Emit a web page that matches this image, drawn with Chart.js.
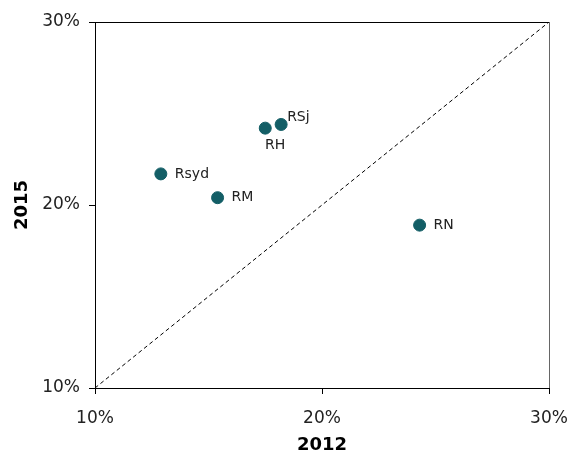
<!DOCTYPE html>
<html>
<head>
<meta charset="utf-8">
<script src="https://cdn.jsdelivr.net/npm/chart.js@4"></script>
<style>
  html, body { margin: 0; padding: 0; background: #fff; }
  #wrap { width: 571px; height: 453px; }
</style>
</head>
<body>
<div id="wrap"><canvas id="c" width="571" height="453"></canvas></div>
<script>
// ======================
// DATA
// ======================
const regions = ["Rsyd", "RM", "RH", "RSj", "RN"];
const share2012 = [12.9, 15.4, 17.5, 18.2, 24.3];
const share2015 = [21.7, 20.4, 24.2, 24.4, 18.9];
const diagonal = [10, 30];
const tickValues = [10, 20, 30];

// label placement per region (dx, dy, align)
const labelPos = [
  [14, 0, "left"],
  [14, 0, "left"],
  [10, 17, "center"],
  [6, -7, "left"],
  [14, 0, "left"]
];

const dotColor = "#135e66";
const font = "'DejaVu Sans', Verdana, sans-serif";

// point labels + top/right frame
const extras = {
  id: "extras",
  afterDatasetsDraw(chart) {
    const ctx = chart.ctx;
    const a = chart.chartArea;
    ctx.save();
    ctx.lineWidth = 1;
    ctx.strokeStyle = "#000";
    ctx.beginPath();
    ctx.moveTo(a.left, a.top + 0.5);
    ctx.lineTo(a.right, a.top + 0.5);
    ctx.stroke();
    ctx.strokeStyle = "#666";
    ctx.beginPath();
    ctx.moveTo(a.right + 0.5, a.top);
    ctx.lineTo(a.right + 0.5, a.bottom);
    ctx.stroke();

    const meta = chart.getDatasetMeta(1);
    ctx.fillStyle = "#222";
    ctx.font = "14px " + font;
    ctx.textBaseline = "middle";
    meta.data.forEach((p, i) => {
      const lp = labelPos[i];
      ctx.textAlign = lp[2];
      ctx.fillText(regions[i], p.x + lp[0], p.y + lp[1]);
    });
    ctx.restore();
  }
};

new Chart(document.getElementById("c"), {
  type: "scatter",
  data: {
    datasets: [
      {
        type: "line",
        data: diagonal.map(v => ({ x: v, y: v })),
        borderColor: "#000",
        borderWidth: 1,
        borderDash: [4, 3],
        pointRadius: 0,
        fill: false
      },
      {
        data: regions.map((r, i) => ({ x: share2012[i], y: share2015[i] })),
        backgroundColor: dotColor,
        borderColor: dotColor,
        pointRadius: 6,
        pointHoverRadius: 6
      }
    ]
  },
  options: {
    responsive: false,
    animation: false,
    layout: { padding: { left: 9, top: 22, right: 22, bottom: 0 } },
    plugins: { legend: { display: false }, tooltip: { enabled: false } },
    scales: {
      x: {
        type: "linear",
        min: 10, max: 30,
        afterBuildTicks: s => { s.ticks = tickValues.map(v => ({ value: v })); },
        afterFit: s => { s.height = 65; s.paddingLeft = 0; s.paddingRight = 0; },
        grid: { drawOnChartArea: false, drawTicks: true, tickLength: 6, color: "#000" },
        border: { display: true, color: "#000", width: 1 },
        ticks: { color: "#222", padding: 14, font: { family: font, size: 17 }, callback: v => v + "%" },
        title: { display: true, text: "2012", color: "#000", padding: { top: 2 }, font: { family: font, size: 18, weight: "bold", lineHeight: 0.4 } }
      },
      y: {
        type: "linear",
        min: 10, max: 30,
        afterBuildTicks: s => { s.ticks = tickValues.map(v => ({ value: v })); },
        afterFit: s => { s.width = 86; s.paddingTop = 0; s.paddingBottom = 0; },
        grid: { drawOnChartArea: false, drawTicks: true, tickLength: 6, color: "#000" },
        border: { display: true, color: "#000", width: 1 },
        ticks: { color: "#222", padding: 9, font: { family: font, size: 17 }, callback: v => v + "%" },
        title: { display: true, text: "2015", color: "#000", padding: { bottom: 0 }, font: { family: font, size: 18, weight: "bold", lineHeight: 1 } }
      }
    }
  },
  plugins: [extras]
});
</script>
</body>
</html>
